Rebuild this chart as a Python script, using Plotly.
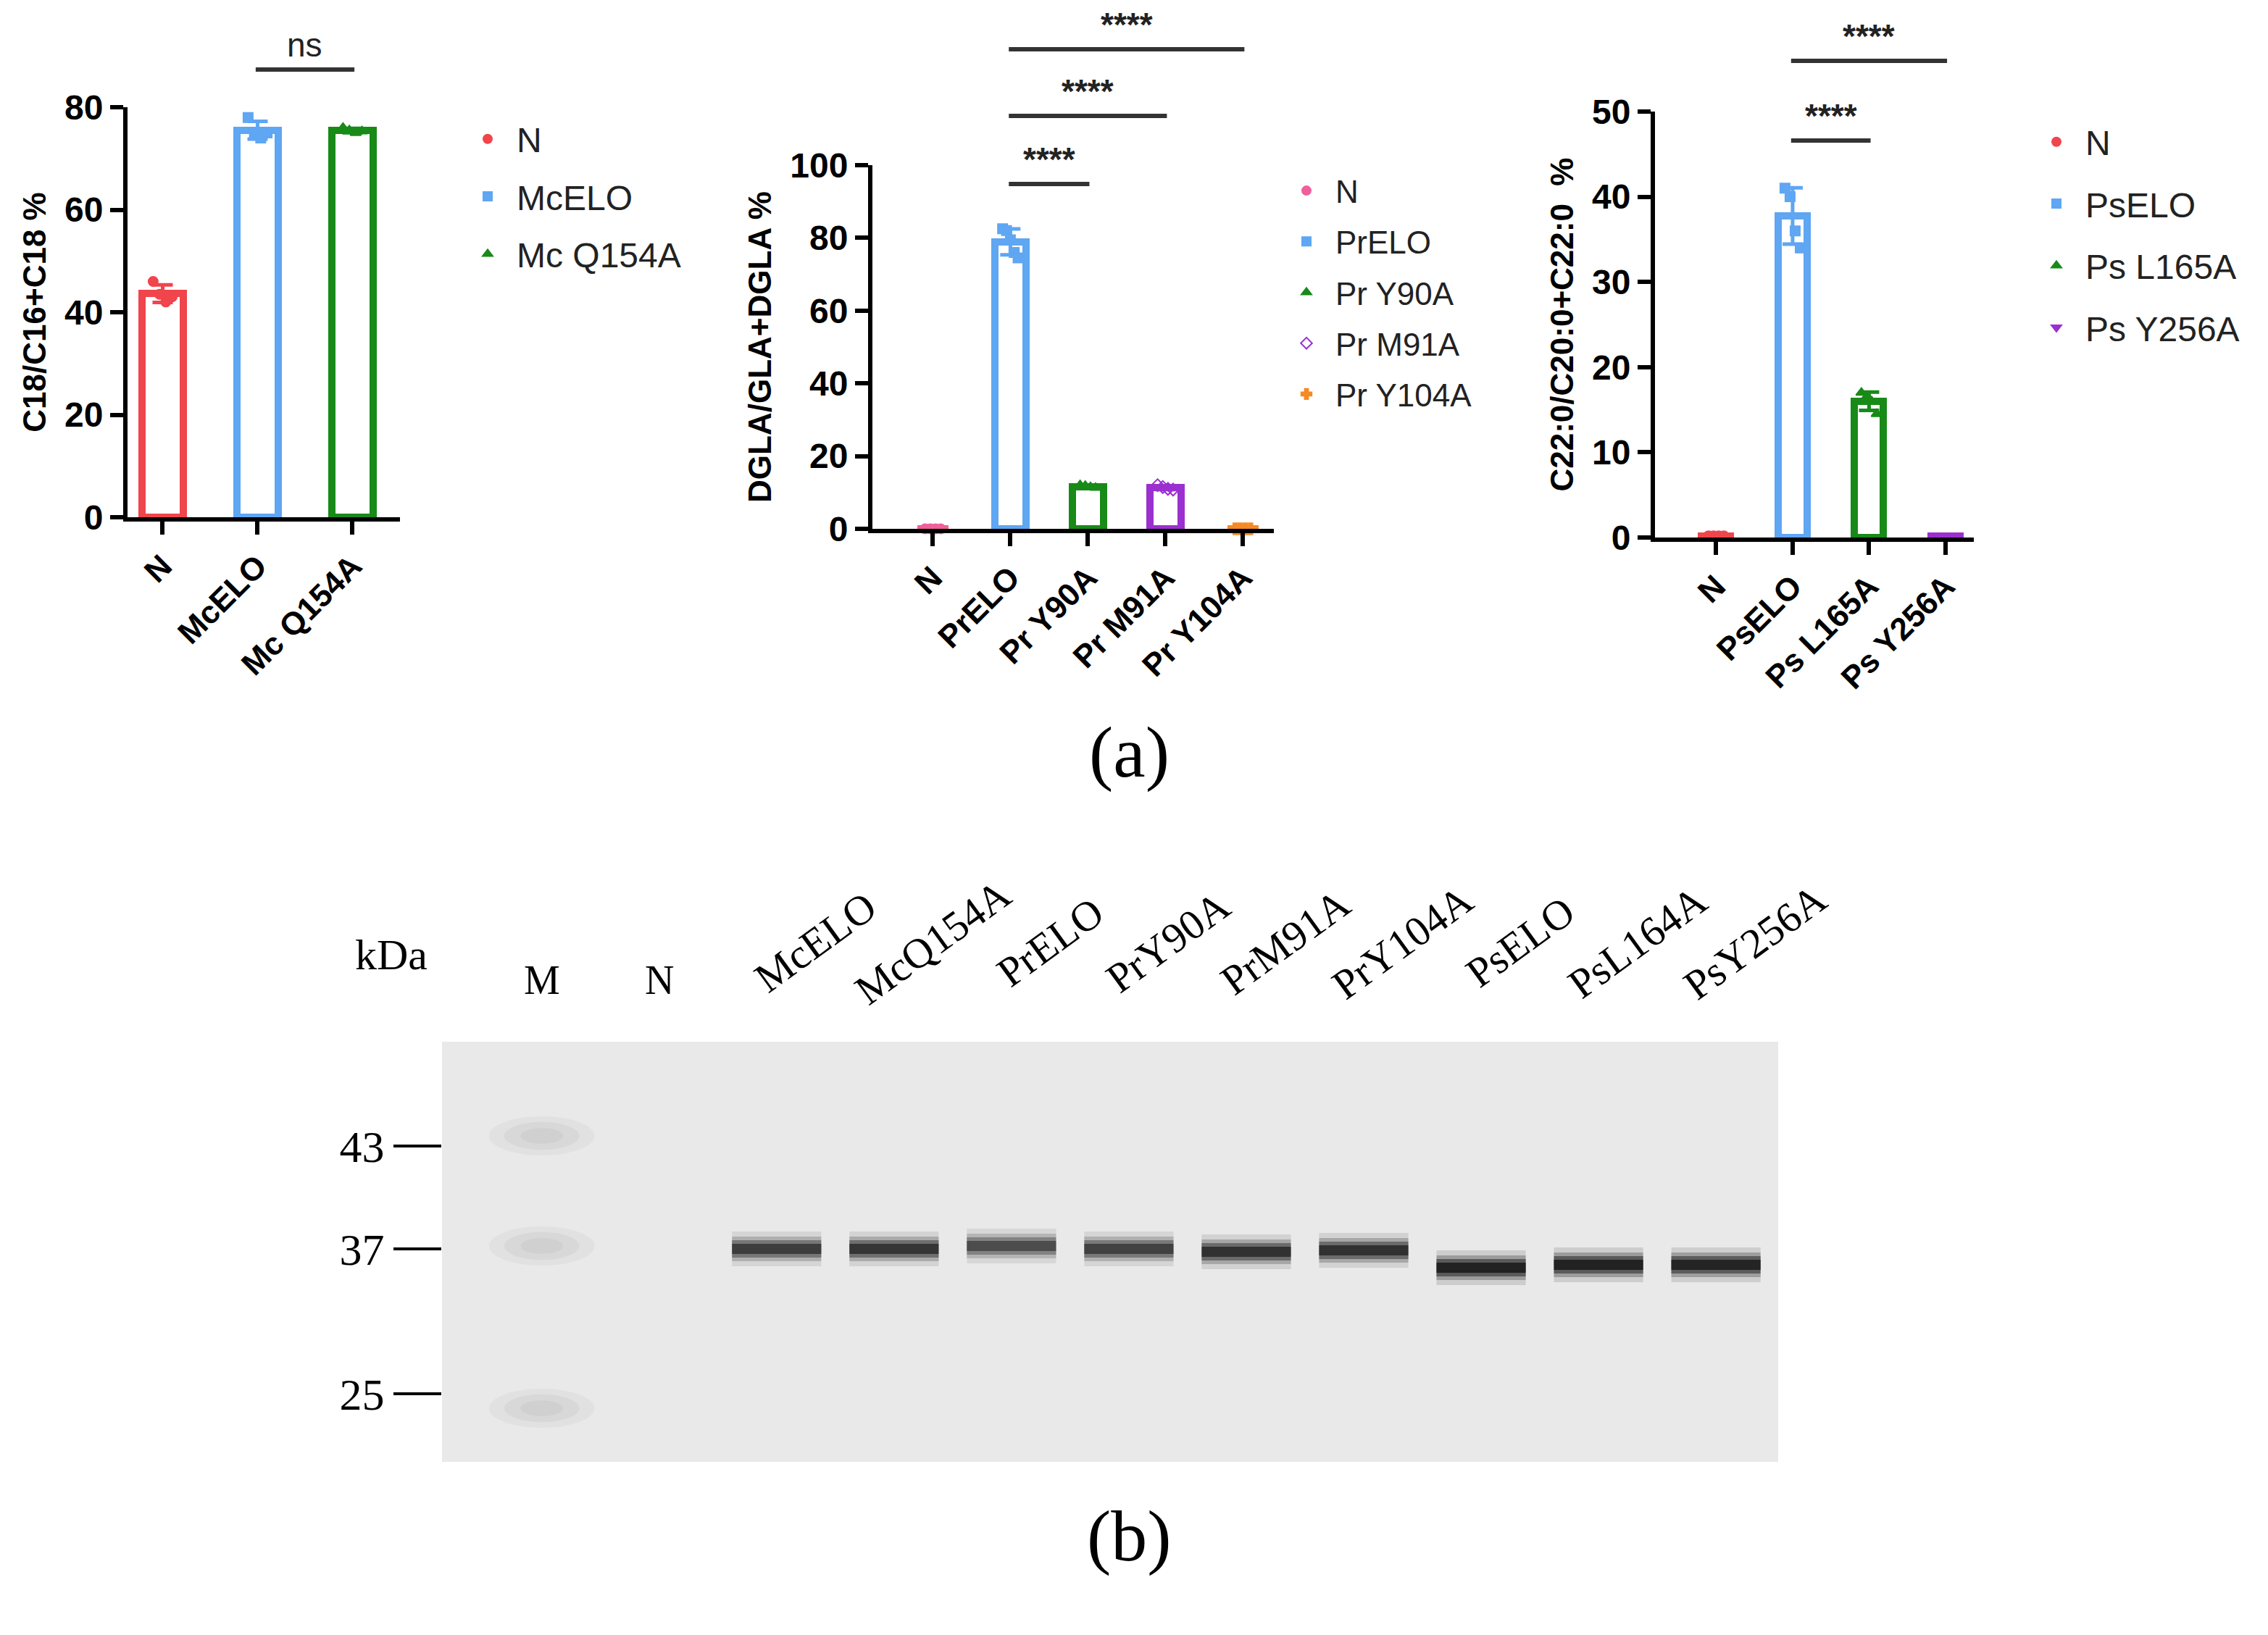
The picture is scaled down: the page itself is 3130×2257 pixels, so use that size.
import numpy as np
import plotly.graph_objects as go

W, H = 3130, 2257
def px(x): return x / W
def py(y): return 1 - y / H

# ---------------- data ----------------
p1_cats = ["N", "McELO", "Mc Q154A"]
p1_points = [[46, 43.5, 42, 43], [78, 75, 74, 75], [76, 75.5, 75, 75.3]]
p2_cats = ["N", "PrELO", "Pr Y90A", "Pr M91A", "Pr Y104A"]
p2_points = [[0, 0, 0, 0], [82.5, 82, 79.5, 76, 74.5], [12, 11.8, 11.5, 11.3], [12, 11.5, 11, 10.8], [0, 0, 0, 0]]
p3_cats = ["N", "PsELO", "Ps L165A", "Ps Y256A"]
p3_points = [[0.2, 0.2, 0.2, 0.2], [41, 40, 36, 34], [17, 16.5, 16, 14.5], [0.2, 0.2, 0.2, 0.2]]

gel_lanes = ["M", "N", "McELO", "McQ154A", "PrELO", "PrY90A", "PrM91A", "PrY104A", "PsELO", "PsL164A", "PsY256A"]
band_intensity = [0, 0, 0.75, 0.82, 0.65, 0.72, 0.85, 0.85, 1.0, 1.0, 0.98]
band_pos = [0, 0, 858, 858, 856, 858, 860, 859, 871, 869, 869]
marker_kda = ["43", "37", "25"]
marker_pos = [787, 858, 958]
ladder_pos = [780, 856, 968]

c_red = "#f0454c"; c_blue = "#5fa6f3"; c_green = "#188a18"; c_purple = "#9b30d0"
c_orange = "#f58a24"; c_pink = "#f0609a"
p1_colors = [c_red, c_blue, c_green]
p2_colors = [c_pink, c_blue, c_green, c_purple, c_orange]
p3_colors = [c_red, c_blue, c_green, c_purple]
p1_sym = ["circle", "square", "triangle-up"]
p2_sym = ["circle", "square", "triangle-up", "diamond-open", "cross"]
p3_sym = ["circle", "square", "triangle-up", "triangle-down"]

fig = go.Figure()
BOLD = dict(family="Liberation Sans", size=48, color="black", weight="bold")

def panel(cats, points, colors, syms, xa, ya, legend, bw):
    means = [float(np.mean(p)) for p in points]
    sds = [float(np.std(p, ddof=1)) for p in points]
    for i, c in enumerate(cats):
        fig.add_trace(go.Bar(x=[i], y=[means[i]], width=bw, marker=dict(color="white", line=dict(color=colors[i], width=10)),
                             error_y=dict(type="data", array=[sds[i]], color=colors[i], thickness=5, width=14),
                             xaxis=xa, yaxis=ya, showlegend=False))
        n = len(points[i])
        offs = np.linspace(-0.1, 0.1, n)
        fig.add_trace(go.Scatter(x=i + offs, y=points[i], mode="markers", name=c, legendgroup=legend + c, legend=legend,
                                 marker=dict(color=colors[i], symbol=syms[i], size=13, line=dict(color=colors[i], width=2)),
                                 xaxis=xa, yaxis=ya, cliponaxis=False))

panel(p1_cats, p1_points, p1_colors, p1_sym, "x", "y", "legend", 0.43)
panel(p2_cats, p2_points, p2_colors, p2_sym, "x2", "y2", "legend2", 0.4)
panel(p3_cats, p3_points, p3_colors, p3_sym, "x3", "y3", "legend3", 0.38)

axcommon = dict(showgrid=False, zeroline=False, showline=True, linecolor="black", linewidth=6, automargin=False,
                ticks="outside", ticklen=18, tickwidth=6, tickcolor="black", tickfont=BOLD)
def xax(cats, rng, dom, anchor):
    return dict(axcommon, domain=dom, range=rng, tickmode="array", tickvals=list(range(len(cats))), ticktext=cats,
                tickangle=-45, anchor=anchor, tickfont=dict(BOLD, size=44))
def yax(rng, dtick, dom, anchor, title):
    return dict(axcommon, domain=dom, range=rng, dtick=dtick, anchor=anchor,
                title=dict(text=title, font=dict(BOLD, size=44), standoff=14))

lay = dict(
    xaxis=xax(p1_cats, [-0.37, 2.5], [px(168), px(544)], "y"),
    yaxis=yax([0, 80], 20, [py(706), py(140)], "x", "C18/C16+C18 %"),
    xaxis2=xax(p2_cats, [-0.78, 4.4], [px(1196), px(1750)], "y2"),
    yaxis2=yax([0, 100], 20, [py(722), py(220)], "x2", "DGLA/GLA+DGLA %"),
    xaxis3=xax(p3_cats, [-0.8, 3.37], [px(2276), px(2716)], "y3"),
    yaxis3=yax([0, 50], 10, [py(734), py(146)], "x3", "C22:0/C20:0+C22:0  %"),
)
fig.update_layout(**lay)

legcommon = dict(font=dict(family="Liberation Sans", size=48, color="#222"), xref="paper", yref="paper",
                 xanchor="left", yanchor="top", tracegroupgap=14, itemsizing="constant", itemwidth=70,
                 bgcolor="rgba(0,0,0,0)")
fig.update_layout(
    legend=dict(legcommon, x=px(625), y=py(146)),
    legend2=dict(legcommon, x=px(1755), y=py(220), font=dict(family="Liberation Sans", size=44, color="#222"), tracegroupgap=10),
    legend3=dict(legcommon, x=px(2790), y=py(150), tracegroupgap=20),
)

def bracket(xa, x0, x1, ypx, text):
    fig.add_shape(type="line", xref=xa, yref="paper", x0=x0, x1=x1, y0=py(ypx), y1=py(ypx),
                  line=dict(color="#333", width=6))
    fig.add_annotation(xref=xa, yref="paper", x=(x0 + x1) / 2, y=py(ypx - 6), text=text, showarrow=False,
                       yanchor="bottom", font=dict(family="Liberation Sans", size=46, color="#222",
                                                   weight="bold" if "*" in text else "normal"))
bracket("x", 0.98, 2.02, 88, "ns")
bracket("x2", 0.98, 2.02, 246, "****")
bracket("x2", 0.98, 3.02, 152, "****")
bracket("x2", 0.98, 4.02, 60, "****")
bracket("x3", 0.98, 2.02, 186, "****")
bracket("x3", 0.98, 3.02, 76, "****")

# ---------------- western blot ----------------
fig.update_layout(
    xaxis4=dict(domain=[px(602), px(2446)], range=[-0.85, 10.53], showgrid=False, zeroline=False, automargin=False,
                showticklabels=False, showline=False, anchor="y4"),
    yaxis4=dict(domain=[py(2010), py(1430)], range=[1005, 715], showgrid=False, zeroline=False, showline=False,
                automargin=False, anchor="x4", tickmode="array", tickvals=marker_pos, ticktext=marker_kda,
                ticks="outside", ticklen=66, tickwidth=4, tickcolor="black",
                tickfont=dict(family="Liberation Serif", size=62, color="black")),
)
fig.add_shape(type="rect", xref="x4", yref="y4", x0=-0.85, x1=10.53, y0=715, y1=1005, fillcolor="#e9e9e9",
              line=dict(width=0), layer="below")
for yp in ladder_pos:
    for wdt, op in [(0.45, 0.04), (0.32, 0.05), (0.18, 0.05)]:
        fig.add_shape(type="circle", xref="x4", yref="y4", x0=-wdt, x1=wdt, y0=yp - wdt * 30, y1=yp + wdt * 30,
                      fillcolor="rgba(60,60,60,%.2f)" % op, line=dict(width=0))
for i, (inten, yp) in enumerate(zip(band_intensity, band_pos)):
    if inten <= 0:
        continue
    for lw, op in [(48, 0.12), (34, 0.25), (24, 0.45), (14, 0.7)]:
        fig.add_trace(go.Scatter(x=[i - 0.38, i + 0.38], y=[yp, yp], mode="lines", xaxis="x4", yaxis="y4",
                                 line=dict(color="rgba(10,10,10,%.3f)" % (op * inten), width=lw),
                                 showlegend=False, hoverinfo="skip"))
for i, name in enumerate(gel_lanes):
    if name in ("M", "N"):
        fig.add_annotation(xref="x4", yref="paper", x=i, y=py(1345), text=name, showarrow=False,
                           font=dict(family="Liberation Serif", size=56, color="black"))
    else:
        fig.add_annotation(xref="x4", yref="paper", x=i + 0.33, y=py(1292), text=name, showarrow=False,
                           textangle=-36, font=dict(family="Liberation Serif", size=58, color="black"))
fig.add_annotation(xref="paper", yref="paper", x=px(480), y=py(1310), text="kDa", showarrow=False,
                   font=dict(family="Liberation Serif", size=60, color="black"))
fig.add_annotation(xref="paper", yref="paper", x=px(1550), y=py(1030), text="(a)", showarrow=False,
                   font=dict(family="Liberation Serif", size=100, color="black"))
fig.add_annotation(xref="paper", yref="paper", x=px(1550), y=py(2170), text="(b)", showarrow=False,
                   font=dict(family="Liberation Serif", size=100, color="black"))

fig.update_layout(width=W, height=H, margin=dict(l=0, r=0, t=0, b=0, autoexpand=False), paper_bgcolor="white",
                  plot_bgcolor="rgba(0,0,0,0)", barmode="overlay", bargap=0)
fig.write_html("out.html")
